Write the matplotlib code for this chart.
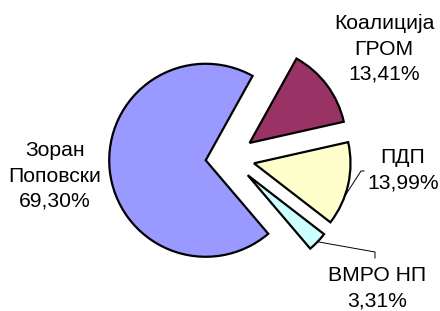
import numpy as np
import matplotlib
matplotlib.use("Agg")
import matplotlib.pyplot as plt

labels = ["Зоран\nПоповски", "Коалиција\nГРОМ", "ПДП", "ВМРО НП"]
values = [69.30, 13.41, 13.99, 3.31]
colors = ["#9999FF", "#993366", "#FFFFCC", "#CCFFFF"]

W, H = 440, 311
fig = plt.figure(figsize=(W / 100, H / 100), dpi=100)
ax = fig.add_axes([0, 0, 1, 1])

cx, cy = 229.6, H - 157.9
R = 96.5
explode = [24, 25, 25, 25]
start = 310.4
wedges, _ = ax.pie(values, colors=colors, startangle=start, counterclock=False,
                   radius=R, center=(cx, cy), explode=explode,
                   wedgeprops=dict(edgecolor="black", linewidth=1.6),
                   frame=True)
ax.set_xlim(0, W)
ax.set_ylim(0, H)
ax.set_aspect("equal")
ax.axis("off")

font = dict(family=["Liberation Sans", "DejaVu Sans"], fontsize=15.2,
            ha="center", va="center", linespacing=1.42, color="#000000")
texts = [f"{l}\n{v:.2f}%".replace(".", ",") for l, v in zip(labels, values)]
label_pos = [(55, H - 176), (384, H - 49), (403, H - 170), (377, H - 288)]
for t, (x, y) in zip(texts, label_pos):
    ax.text(x, y, t, **font)

# leader lines from wedge arcs
def arc_point(w, frac):
    th = np.deg2rad(w.theta1 + (w.theta2 - w.theta1) * frac)
    c = w.center
    return c[0] + w.r * np.cos(th), c[1] + w.r * np.sin(th)

px, py = arc_point(wedges[2], 0.35)
ax.plot([px, 361, 364], [py, H - 171, H - 171], color="black", lw=0.7)
vx, vy = arc_point(wedges[3], 0.5)
ax.plot([vx, 375, 375], [vy, H - 252, H - 258], color="black", lw=0.7)

fig.savefig("out.png", dpi=100)
